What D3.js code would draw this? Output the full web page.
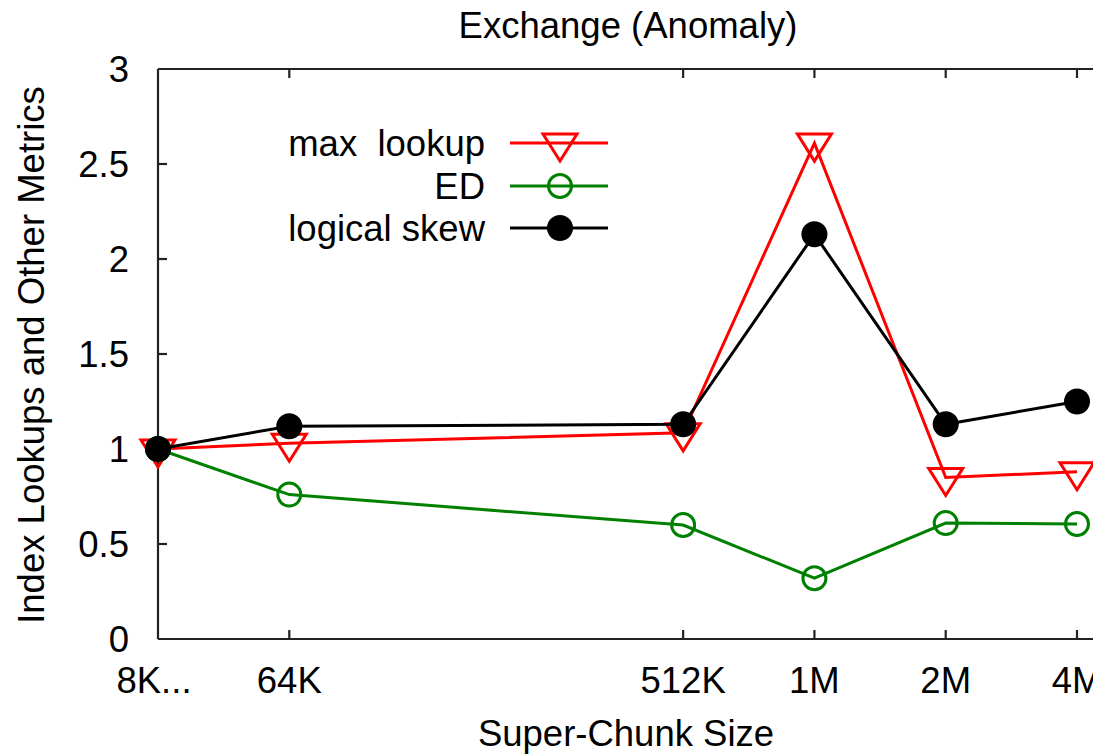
<!DOCTYPE html>
<html lang="en">
<head>
    <meta charset="UTF-8">
    <title>Exchange (Anomaly)</title>
    <script src="https://d3js.org/d3.v7.min.js"></script>
    <style>
        body {
            margin: 0;
            background: #fff;
            font-family: "Liberation Sans", Arial, sans-serif;
        }
        text {
            fill: #000;
        }
    </style>
</head>
<body>
    <div id="chart"></div>

    <script>
        // x categories (position index on the axis; "8K..." squeezes the small sizes)
        const sizes = ["8K...", "64K", "512K", "1M", "2M", "4M"];
        const sizePos = [0, 1, 4, 5, 6, 7];

        const maxLookup = [1.0, 1.03, 1.085, 2.61, 0.85, 0.88];
        const ed = [1.0, 0.76, 0.6, 0.32, 0.61, 0.605];
        const logicalSkew = [1.0, 1.12, 1.13, 2.13, 1.13, 1.25];

        const yTicks = [0, 0.5, 1, 1.5, 2, 2.5, 3];

        const seriesNames = ["max  lookup", "ED", "logical skew"];
        const seriesColors = ["#ff0000", "#008000", "#000000"];

        const width = 1093, height = 754;

        const svg = d3.select("#chart")
            .append("svg")
            .attr("width", width)
            .attr("height", height);

        const x = d3.scaleLinear().domain([0, 7]).range([158, 1077]);
        const y = d3.scaleLinear().domain([0, 3]).range([639, 69]);

        const fontSize = 36.5;

        // frame (right side runs off the picture)
        const frame = svg.append("g")
            .attr("stroke", "#222")
            .attr("stroke-width", 2.2);
        frame.append("line").attr("x1", x(0)).attr("x2", width + 10).attr("y1", y(0)).attr("y2", y(0));
        frame.append("line").attr("x1", x(0)).attr("x2", width + 10).attr("y1", y(3)).attr("y2", y(3));
        frame.append("line").attr("x1", x(0)).attr("x2", x(0)).attr("y1", y(0)).attr("y2", y(3));

        // y ticks and labels
        const tickLen = 9;
        yTicks.forEach(t => {
            if (t > 0 && t < 3) {
                frame.append("line")
                    .attr("x1", x(0)).attr("x2", x(0) + tickLen)
                    .attr("y1", y(t)).attr("y2", y(t));
            }
            svg.append("text")
                .attr("x", 129)
                .attr("y", y(t))
                .attr("dy", "0.36em")
                .attr("text-anchor", "end")
                .attr("font-size", fontSize)
                .text(t);
        });

        // x ticks (bottom and mirrored at top) and labels
        sizes.forEach((s, i) => {
            const px = x(sizePos[i]);
            if (i > 0) {
                frame.append("line").attr("x1", px).attr("x2", px)
                    .attr("y1", y(0)).attr("y2", y(0) - tickLen);
                frame.append("line").attr("x1", px).attr("x2", px)
                    .attr("y1", y(3)).attr("y2", y(3) + tickLen);
            }
            svg.append("text")
                .attr("x", i === 0 ? px - 4 : px)
                .attr("y", 693)
                .attr("text-anchor", "middle")
                .attr("font-size", fontSize)
                .text(s);
        });

        // titles
        svg.append("text")
            .attr("x", 628).attr("y", 38)
            .attr("text-anchor", "middle")
            .attr("font-size", fontSize)
            .text("Exchange (Anomaly)");

        svg.append("text")
            .attr("x", 626).attr("y", 746)
            .attr("text-anchor", "middle")
            .attr("font-size", fontSize)
            .text("Super-Chunk Size");

        svg.append("text")
            .attr("transform", "translate(44,355) rotate(-90)")
            .attr("text-anchor", "middle")
            .attr("font-size", fontSize)
            .text("Index Lookups and Other Metrics");

        // markers
        function triangleDown(g, cx, cy, color) {
            const w = 17, h = 27;
            g.append("path")
                .attr("d", `M${cx - w},${cy - 9} L${cx + w},${cy - 9} L${cx},${cy + h - 9} Z`)
                .attr("fill", "none")
                .attr("stroke", color)
                .attr("stroke-width", 3);
        }
        function openCircle(g, cx, cy, color) {
            g.append("circle")
                .attr("cx", cx).attr("cy", cy).attr("r", 11.5)
                .attr("fill", "none")
                .attr("stroke", color)
                .attr("stroke-width", 3);
        }
        function filledCircle(g, cx, cy, color) {
            g.append("circle")
                .attr("cx", cx).attr("cy", cy).attr("r", 13)
                .attr("fill", color);
        }
        const markers = [triangleDown, openCircle, filledCircle];
        const allSeries = [maxLookup, ed, logicalSkew];

        const line = d3.line()
            .x((d, i) => x(sizePos[i]))
            .y(d => y(d));

        const plot = svg.append("g");
        allSeries.forEach((vals, k) => {
            const g = plot.append("g");
            g.append("path")
                .datum(vals)
                .attr("d", line)
                .attr("fill", "none")
                .attr("stroke", seriesColors[k])
                .attr("stroke-width", 3);
            vals.forEach((v, i) => markers[k](g, x(sizePos[i]), y(v), seriesColors[k]));
        });

        // legend
        const legend = svg.append("g");
        const legendRows = [143, 186, 228];
        seriesNames.forEach((name, k) => {
            const ly = legendRows[k];
            legend.append("text")
                .attr("x", 485).attr("y", ly)
                .attr("dy", "0.36em")
                .attr("text-anchor", "end")
                .attr("font-size", fontSize)
                .style("white-space", "pre")
                .attr("xml:space", "preserve")
                .text(name);
            legend.append("line")
                .attr("x1", 510).attr("x2", 608)
                .attr("y1", ly).attr("y2", ly)
                .attr("stroke", seriesColors[k])
                .attr("stroke-width", 3);
            markers[k](legend, 560, ly, seriesColors[k]);
        });
    </script>
</body>
</html>
